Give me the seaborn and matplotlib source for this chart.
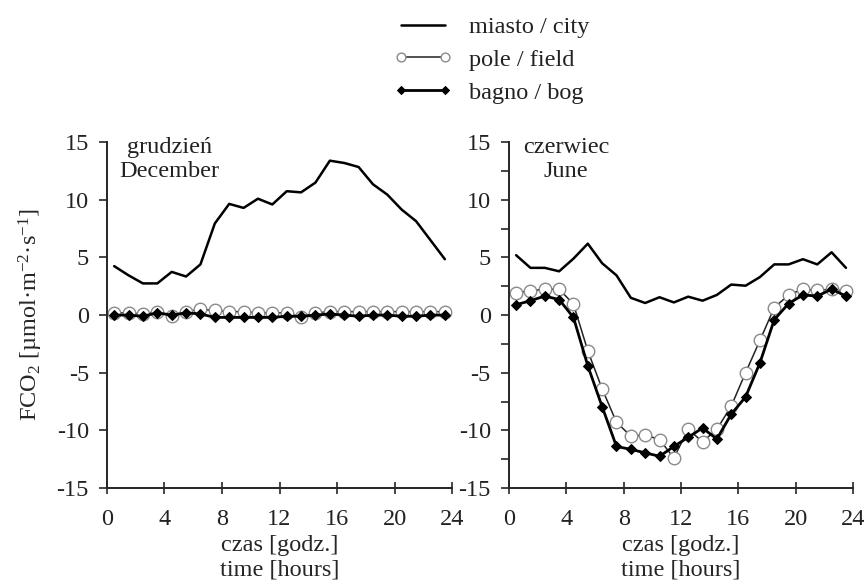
import numpy as np
import pandas as pd
import matplotlib
matplotlib.use("Agg")
import matplotlib.pyplot as plt
import seaborn as sns
from matplotlib.ticker import MultipleLocator

# godziny pomiarow (srodki przedzialow godzinnych)
hours = [h + 0.5 for h in range(24)]

# grudzien / December
city_dec = [4.25, 3.45, 2.75, 2.75, 3.75, 3.35, 4.4, 7.95, 9.65, 9.3, 10.1, 9.6,
            10.75, 10.65, 11.5, 13.4, 13.2, 12.85, 11.35, 10.45, 9.15, 8.15, 6.5, 4.85]
field_dec = [0.2, 0.2, 0.1, 0.3, -0.1, 0.3, 0.5, 0.4, 0.3, 0.3, 0.2, 0.2,
             0.2, -0.2, 0.2, 0.3, 0.3, 0.3, 0.3, 0.3, 0.3, 0.3, 0.3, 0.3]
bog_dec = [0.0, 0.0, -0.1, 0.2, 0.0, 0.2, 0.1, -0.2, -0.2, -0.2, -0.2, -0.2,
           -0.1, -0.1, 0.0, 0.1, 0.0, -0.1, 0.0, 0.0, -0.1, -0.1, 0.0, 0.0]

# czerwiec / June
city_jun = [5.2, 4.1, 4.1, 3.8, 4.9, 6.2, 4.5, 3.45, 1.5, 1.05, 1.55, 1.1,
            1.6, 1.25, 1.75, 2.65, 2.55, 3.3, 4.4, 4.4, 4.85, 4.4, 5.45, 4.1]
field_jun = [1.95, 2.1, 2.25, 2.25, 0.95, -3.1, -6.4, -9.3, -10.5, -10.4, -10.8, -12.4,
             -9.9, -11.0, -9.9, -7.9, -5.0, -2.2, 0.65, 1.75, 2.25, 2.15, 2.25, 2.05]
bog_jun = [0.9, 1.25, 1.65, 1.35, -0.2, -4.4, -7.95, -11.4, -11.65, -11.95, -12.25, -11.4,
           -10.6, -9.8, -10.75, -8.6, -7.1, -4.15, -0.4, 1.0, 1.75, 1.65, 2.25, 1.65]

series_names = ["miasto / city", "pole / field", "bagno / bog"]
panel_titles = ["grudzień\nDecember", "czerwiec\nJune"]

sns.set_style("ticks")
plt.rcParams["font.family"] = ["Liberation Serif", "DejaVu Serif"]
plt.rcParams["mathtext.fontset"] = "custom"
plt.rcParams["mathtext.rm"] = "Liberation Serif"
plt.rcParams["mathtext.it"] = "Liberation Serif:italic"
plt.rcParams["axes.unicode_minus"] = False
plt.rcParams["text.color"] = "#222222"

FS = 17.5

fig = plt.figure(figsize=(8.67, 5.87), dpi=100)
ax1 = fig.add_axes([0.1234, 0.1687, 0.398, 0.589])
ax2 = fig.add_axes([0.587, 0.1687, 0.397, 0.589])

styles = {
    "miasto / city": dict(color="black", linewidth=1.8),
    "pole / field": dict(color="#222222", linewidth=1.1, marker="o", markersize=9,
                         markerfacecolor="white", markeredgecolor="#8a8a8a",
                         markeredgewidth=1.0),
    "bagno / bog": dict(color="black", linewidth=2.0, marker="D", markersize=5.5,
                        markerfacecolor="black", markeredgecolor="black"),
}

panels = [
    (ax1, {"miasto / city": city_dec, "pole / field": field_dec, "bagno / bog": bog_dec}),
    (ax2, {"miasto / city": city_jun, "pole / field": field_jun, "bagno / bog": bog_jun}),
]

for i, (ax, data) in enumerate(panels):
    for name in ["pole / field", "bagno / bog", "miasto / city"]:
        df = pd.DataFrame({"godz": hours, "FCO2": data[name]})
        sns.lineplot(data=df, x="godz", y="FCO2", ax=ax, label=name,
                     legend=False, **styles[name])
    ax.set_xlim(0, 24)
    ax.set_ylim(-15, 15)
    ax.xaxis.set_major_locator(MultipleLocator(4))
    ax.yaxis.set_major_locator(MultipleLocator(5))
    if i == 1:
        ax.yaxis.set_minor_locator(MultipleLocator(2.5))
        ax.tick_params(axis="y", which="minor", direction="out", length=6, width=1.2)
    ax.tick_params(axis="y", which="major", direction="out", length=6, width=1.2,
                   labelsize=FS, pad=7, labelcolor="#222222")
    ax.tick_params(axis="x", direction="inout", length=8, width=1.2, labelsize=FS,
                   pad=11, labelcolor="#222222")
    for s in ["left", "bottom"]:
        ax.spines[s].set_linewidth(1.4)
    sns.despine(ax=ax)
    ax.set_xlabel("czas [godz.]\ntime [hours]", fontsize=FS, labelpad=4, linespacing=1.2)
    ax.set_ylabel("")
    ax.text(0.18 if i == 0 else 0.166, 1.015, panel_titles[i], transform=ax.transAxes,
            ha="center", va="top", fontsize=FS, linespacing=1.2)

ax1.set_ylabel(r"FCO$_2$ [µmol·m$^{-2}$·s$^{-1}$]", fontsize=FS, labelpad=8)

handles, labels = ax1.get_legend_handles_labels()
order = [labels.index(n) for n in series_names]
fig.legend([handles[k] for k in order], series_names, loc="upper center",
           bbox_to_anchor=(0.567, 1.01), frameon=False, fontsize=FS,
           handlelength=2.4, handletextpad=0.7, numpoints=2, labelspacing=0.45,
           markerscale=0.7)

fig.savefig("out.png", dpi=100)
